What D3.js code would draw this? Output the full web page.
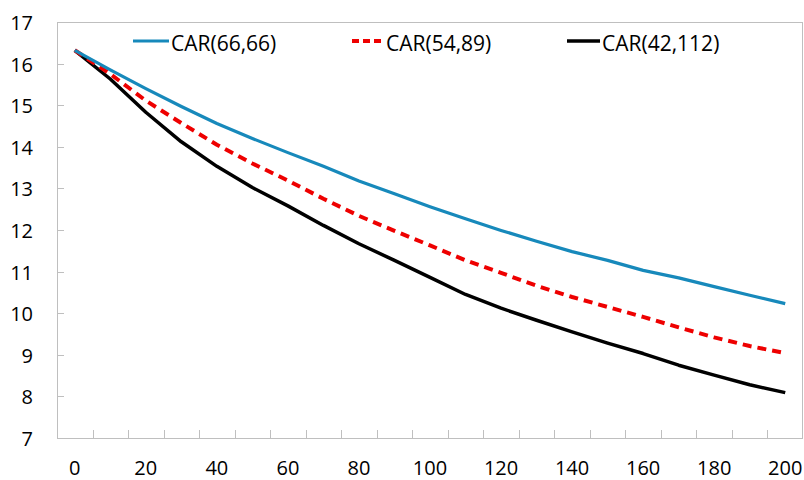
<!DOCTYPE html>
<html><head><meta charset="utf-8">
<script src="https://cdn.jsdelivr.net/npm/d3@7"></script>
<style>body{margin:0;background:#fff}svg{display:block}text{font-family:"Open Sans",sans-serif;fill:#000}</style>
</head><body><svg id="c" width="804" height="480"></svg>
<script>
const xValues = [0,10,20,30,40,50,60,70,80,90,100,110,120,130,140,150,160,170,180,190,200];
const xTickLabels = [0,20,40,60,80,100,120,140,160,180,200];
const yTicks = [7,8,9,10,11,12,13,14,15,16,17];
const seriesNames = ["CAR(66,66)","CAR(54,89)","CAR(42,112)"];
const car6666 = [16.32,15.85,15.40,14.97,14.56,14.20,13.86,13.53,13.18,12.87,12.56,12.27,11.99,11.73,11.48,11.27,11.03,10.85,10.64,10.43,10.23];
const car5489 = [16.32,15.75,15.11,14.57,14.05,13.60,13.19,12.75,12.34,11.98,11.63,11.27,10.97,10.66,10.39,10.15,9.91,9.66,9.42,9.21,9.04];
const car42112 = [16.32,15.63,14.83,14.12,13.53,13.02,12.58,12.11,11.67,11.27,10.86,10.45,10.12,9.83,9.55,9.28,9.03,8.75,8.51,8.28,8.09];

const svg = d3.select("#c");
const L=57,R=803,T=22,B=438;
const x = d3.scaleBand().domain(xValues).range([L,R]).paddingInner(0).paddingOuter(0);
const cx = v => x(v)+x.bandwidth()/2;
const y = d3.scaleLinear().domain([7,17]).range([B,T]);
const gray="#BFBFBF";

// frame
svg.append("rect").attr("x",L+0.5).attr("y",T+0.5).attr("width",R-L-1).attr("height",B-T).attr("fill","none").attr("stroke",gray).attr("stroke-width",1);

// y ticks (inward)
svg.selectAll(".yt").data(yTicks).join("line")
  .attr("x1",L).attr("x2",L+7).attr("y1",d=>Math.round(y(d))+0.5).attr("y2",d=>Math.round(y(d))+0.5)
  .attr("stroke",gray);
svg.selectAll(".yl").data(yTicks).join("text")
  .attr("x",33).attr("y",d=>y(d)+8).attr("text-anchor","end").attr("font-size",20).text(d=>d);

// x ticks at category boundaries
const bounds = xValues.slice(1).map(v=>x(v));
svg.selectAll(".xt").data(bounds).join("line")
  .attr("x1",d=>Math.round(d)+0.5).attr("x2",d=>Math.round(d)+0.5).attr("y1",B).attr("y2",B-8)
  .attr("stroke",gray);
svg.selectAll(".xl").data(xTickLabels).join("text")
  .attr("x",d=>cx(d)).attr("y",475).attr("text-anchor","middle").attr("font-size",20).text(d=>d);

const series = [
  {name:seriesNames[0], vals:car6666, color:"#1789BB", dash:null, w:3.2},
  {name:seriesNames[1], vals:car5489, color:"#EE0000", dash:"9,6", w:4},
  {name:seriesNames[2], vals:car42112, color:"#000000", dash:null, w:3.5}
];
const line = d3.line().x((d,i)=>cx(xValues[i])).y(d=>y(d));
[series[2],series[1],series[0]].forEach(s=>{
  svg.append("path").attr("d",line(s.vals)).attr("fill","none").attr("stroke",s.color)
    .attr("stroke-width",s.w).attr("stroke-dasharray",s.dash).attr("stroke-linejoin","round");
});

// legend
const legX=[[133,169,171],[352,384,386],[567,600,602]];
series.forEach((s,i)=>{
  svg.append("line").attr("x1",legX[i][0]).attr("x2",legX[i][1]).attr("y1",41).attr("y2",41)
    .attr("stroke",s.color).attr("stroke-width",s.w).attr("stroke-dasharray",s.dash?"7,4":null);
  svg.append("text").attr("x",legX[i][2]).attr("y",51).attr("font-size",21).text(s.name);
});
</script></body></html>
